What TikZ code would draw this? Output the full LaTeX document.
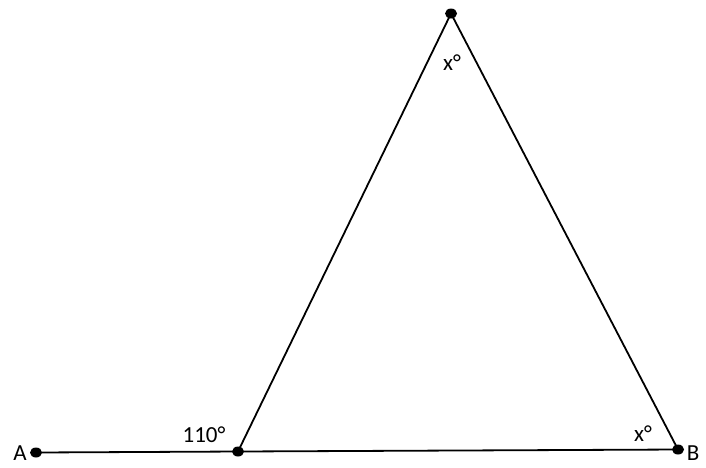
\documentclass[tikz,border=0pt]{standalone}
\usepackage{fontspec}
\setmainfont{Carlito}
\begin{document}
\begin{tikzpicture}[x=1pt,y=-1pt,
  seg/.style={line width=1.8pt,black},
  lbl/.style={font=\fontsize{23}{27}\selectfont,inner sep=0pt}]
\useasboundingbox (0,0) rectangle (706,467);
\coordinate (A) at (36,452.5);
\coordinate (C) at (238,451.5);
\coordinate (T) at (451,13.5);
\coordinate (B) at (678,449.5);
\draw[seg] (A) -- (C) -- (B) -- (T) -- (C);
\foreach \p in {A,C,T,B} \fill (\p) ellipse [x radius=6pt, y radius=5pt];
\node[lbl,anchor=base] (la) at (20,460) {A};
\node[lbl] (l110) at (204,435) {110°};
\node[lbl] (lxt) at (452,63) {x°};
\node[lbl] (lxb) at (643,434) {x°};
\node[lbl] (lb) at (693,453) {B};
\end{tikzpicture}
\end{document}
